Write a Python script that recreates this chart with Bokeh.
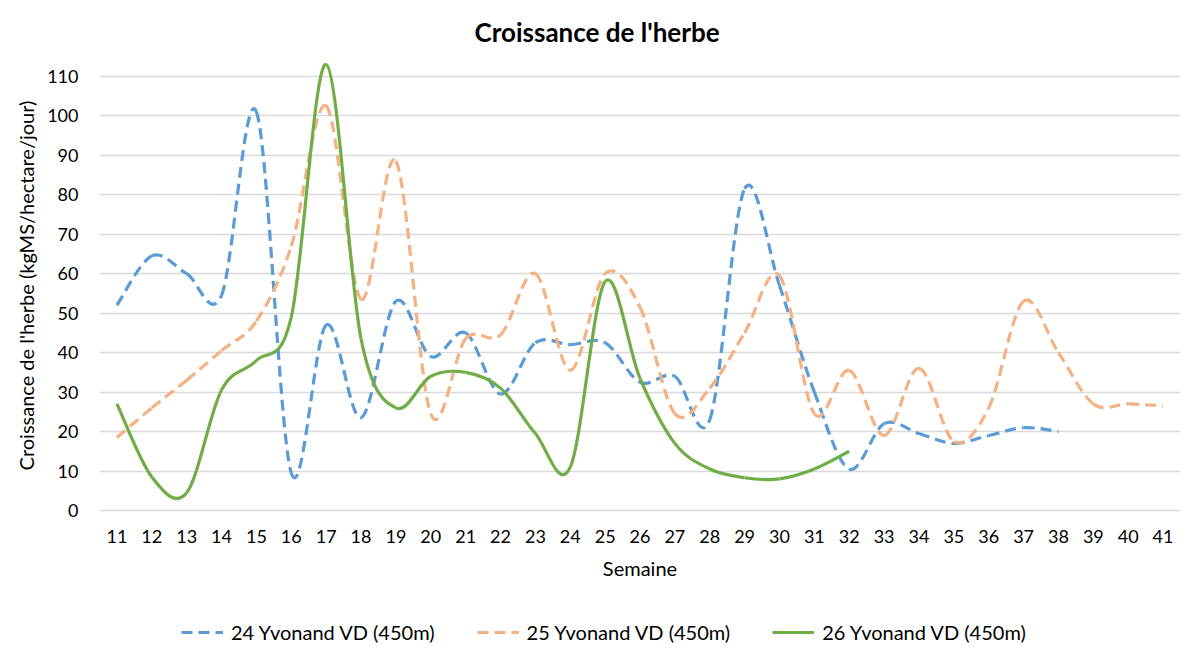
from bokeh.plotting import figure
from bokeh.models import Legend, LegendItem, FixedTicker, ColumnDataSource
from bokeh.layouts import column
from bokeh.embed import file_html
from bokeh.resources import INLINE

weeks = list(range(11, 42))
week_labels = [str(w) for w in weeks]

weeks_24 = list(range(11, 39))
s24 = [52, 64.5, 60, 54.5, 101, 9.5, 47, 23.5, 53, 39, 45, 29.5, 42.5, 42, 42.5, 32.5,
       34, 23, 81.5, 57, 30, 10.5, 22, 19.5, 17, 19, 21, 20]
weeks_25 = list(range(11, 42))
s25 = [18.5, 26, 33, 40.5, 48, 67, 102.5, 53.5, 88.5, 24.5, 43.5, 44.5, 60, 35.5, 60, 51.5,
       24.5, 31, 45, 59.5, 24.5, 35.5, 19, 36, 17.5, 26, 53, 40, 27, 27, 26.5]
weeks_26 = list(range(11, 33))
s26 = [27, 8.5, 4.5, 30.5, 38, 49, 113, 43.5, 26, 34, 35, 31, 19.5, 11, 58, 33.5, 17,
       10.5, 8.3, 8, 10.5, 15]

names = ["24 Yvonand VD (450m)", "25 Yvonand VD (450m)", "26 Yvonand VD (450m)"]
colors = ["#5B9BD5", "#F4B183", "#70AD47"]
dashes = ["11 6", "11 6", "solid"]

FONT = "Lato"


def smooth_source(xs, ys):
    n = len(xs)
    d = dict(x0=[], y0=[], x1=[], y1=[], cx0=[], cy0=[], cx1=[], cy1=[])
    for i in range(n - 1):
        a = max(i - 1, 0)
        b = min(i + 2, n - 1)
        d["x0"].append(xs[i]); d["y0"].append(ys[i])
        d["x1"].append(xs[i + 1]); d["y1"].append(ys[i + 1])
        d["cx0"].append(xs[i] + (xs[i + 1] - xs[a]) / 6)
        d["cy0"].append(ys[i] + (ys[i + 1] - ys[a]) / 6)
        d["cx1"].append(xs[i + 1] - (xs[b] - xs[i]) / 6)
        d["cy1"].append(ys[i + 1] - (ys[b] - ys[i]) / 6)
    return ColumnDataSource(d)


p = figure(frame_width=1081, frame_height=450, output_backend="svg", toolbar_location=None,
           x_range=(10.5, 41.5), y_range=(0, 114),
           min_border_left=99, min_border_right=4, min_border_top=60, min_border_bottom=72,
           title="Croissance de l'herbe")
p.outline_line_color = None
p.background_fill_color = "white"
p.border_fill_color = "white"

p.title.align = "left"
p.title.offset = 375
p.title.text_font = FONT
p.title.text_font_size = "26px"
p.title.text_font_style = "bold"
p.title.text_color = "#000000"
p.title.standoff = 25

p.xaxis.ticker = FixedTicker(ticks=weeks)
p.xaxis.major_label_overrides = {w: l for w, l in zip(weeks, week_labels)}
p.yaxis.ticker = FixedTicker(ticks=list(range(0, 111, 10)))
for ax in (p.xaxis, p.yaxis):
    ax.major_tick_line_color = None
    ax.minor_tick_line_color = None
    ax.major_label_text_font = FONT
    ax.major_label_text_font_size = "18px"
    ax.major_label_text_color = "#000000"
    ax.axis_label_text_font = FONT
    ax.axis_label_text_font_size = "20px"
    ax.axis_label_text_font_style = "normal"
    ax.axis_label_text_color = "#000000"
p.xaxis.axis_line_color = "#D9D9D9"
p.xaxis.axis_line_width = 1.5
p.yaxis.axis_line_color = None
p.xaxis.axis_label = "Semaine"
p.yaxis.axis_label = "Croissance de l'herbe (kgMS/hectare/jour)"
p.xaxis.major_label_standoff = 13
p.xaxis.axis_label_standoff = 10
p.yaxis.major_label_standoff = 15
p.yaxis.axis_label_standoff = 6

p.xgrid.grid_line_color = None
p.ygrid.grid_line_color = "#D9D9D9"
p.ygrid.grid_line_width = 1.5

series_x = [weeks_24, weeks_25, weeks_26]
series_y = [s24, s25, s26]
for xs, ys, c, dsh in zip(series_x, series_y, colors, dashes):
    src = smooth_source(xs, ys)
    p.bezier(x0="x0", y0="y0", x1="x1", y1="y1", cx0="cx0", cy0="cy0", cx1="cx1", cy1="cy1",
             source=src, line_color=c, line_width=3.2, line_dash=dsh)

# legend strip below the chart (its ranges keep the series out of view; only the legend shows)
q = figure(frame_width=1184, frame_height=67, output_backend="svg", toolbar_location=None,
           x_range=(0, 1), y_range=(0, 1), min_border=0)
q.outline_line_color = None
q.axis.visible = False
q.grid.visible = False
items = []
for xs, ys, name, c, dsh in zip(series_x, series_y, names, colors, dashes):
    r = q.line(x=xs, y=ys, line_color=c, line_width=3.2, line_dash=dsh)
    items.append(LegendItem(label=name, renderers=[r]))
legend = Legend(items=items, orientation="horizontal", location=(181, 5),
                label_text_font=FONT, label_text_font_size="20px", label_text_color="#000000",
                glyph_width=42, label_standoff=8, spacing=42, border_line_color=None,
                background_fill_alpha=0, margin=0, padding=4)
q.add_layout(legend, "center")

layout = column(p, q, spacing=0)
open("out.html", "w").write(file_html(layout, INLINE))
